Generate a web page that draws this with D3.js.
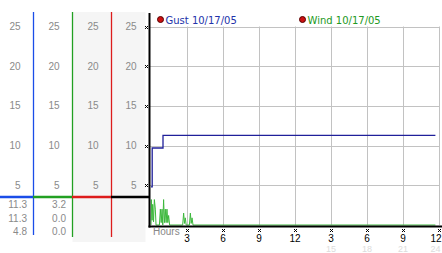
<!DOCTYPE html>
<html>
<head>
<meta charset="utf-8">
<script src="https://cdn.jsdelivr.net/npm/d3@7"></script>
<style>
  body { margin: 0; background: #fff; }
  text { font-family: "Liberation Sans", Arial, sans-serif; }
</style>
</head>
<body>
<svg id="chart" width="442" height="253"></svg>
<script>
// wind / gust data (hours since midnight, mph)
let gustHours = [0, 0.1, 1.0, 23.7];
let gustValues = [4.8, 9.7, 11.3, 11.3];

let windHours = [0, 0.03, 0.09, 0.14, 0.21, 0.28, 0.36, 0.42, 0.70, 0.78, 0.85, 0.92, 0.98,
                 1.05, 1.12, 1.19, 1.26, 1.33, 1.40, 1.47, 1.55, 2.64, 2.72, 2.79, 2.86, 2.93,
                 3.20, 3.28, 3.35, 3.42, 3.50, 23.7];
let windValues = [0, 3.2, 0.6, 2.6, 0.4, 3.2, 2.0, 0, 0, 2.0, 0.3, 2.0, 0,
                  3.2, 0.3, 2.0, 0.3, 2.0, 0.3, 1.2, 0, 0, 1.5, 0.2, 0.9, 0,
                  0, 1.5, 0.2, 0.9, 0, 0];

let yTicks = [5, 10, 15, 20, 25];
let xTicks = [3, 6, 9, 12, 15, 18, 21, 24];
let xTickLabels = ["3", "6", "9", "12", "3", "6", "9", "12"];
let xFaintLabels = ["", "", "", "", "15", "18", "21", "24"];

let legendNames = ["Gust 10/17/05", "Wind 10/17/05"];
let gustReadings = ["11.3", "11.3", "4.8"];   // max, now, min
let windReadings = ["3.2", "0.0", "0.0"];

function make_chart(){
    let svg = d3.select('#chart');
    let AXIS_X = 149.5;
    let READ_Y = 197;
    let colEdges = [0, 33, 72, 111, 149];
    let colColors = ['#1a4de8', '#22a022', '#dd1c1c', '#000'];

    // scales
    let xScale = d3.scaleLinear().domain([0, 24]).range([151, 439]);
    let yScale = d3.scaleLinear().domain([0, 25]).range([225, 26.5]);

    // grey background for the two right columns
    svg.append('rect')
        .attr('x', 72.5).attr('y', 12)
        .attr('width', 73).attr('height', 230)
        .attr('fill', '#f5f5f5');

    // column tick labels (each column repeats the scale)
    for (let i = 0; i < 4; i++) {
        svg.append('g')
            .selectAll('text')
            .data(yTicks)
            .join('text')
            .attr('x', colEdges[i + 1] - 12.5)
            .attr('y', d => yScale(d) + 3.5)
            .attr('text-anchor', 'end')
            .attr('font-size', 10)
            .attr('fill', '#8a8a8a')
            .text(d => d);
    }

    // column divider lines
    svg.append('g')
        .selectAll('line')
        .data(colEdges.slice(1, 4))
        .join('line')
        .attr('x1', d => d + 0.5).attr('x2', d => d + 0.5)
        .attr('y1', 12).attr('y2', (d, i) => i == 0 ? 235 : 237)
        .attr('stroke', (d, i) => colColors[i])
        .attr('stroke-width', 1.3);

    // horizontal reading bar, one colour per column
    svg.append('g')
        .selectAll('line')
        .data(colColors)
        .join('line')
        .attr('x1', (d, i) => colEdges[i]).attr('x2', (d, i) => colEdges[i + 1])
        .attr('y1', READ_Y).attr('y2', READ_Y)
        .attr('stroke', d => d)
        .attr('stroke-width', 2.6);

    // readings under the bar
    [gustReadings, windReadings].forEach((vals, i) => {
        svg.append('g')
            .selectAll('text')
            .data(vals)
            .join('text')
            .attr('x', colEdges[i + 1] - 6)
            .attr('y', (d, j) => 208 + j * 13.5)
            .attr('text-anchor', 'end')
            .attr('font-size', 10)
            .attr('fill', '#8a8a8a')
            .text(d => d);
    });

    // grid
    svg.append('g')
        .selectAll('line')
        .data(yTicks)
        .join('line')
        .attr('x1', AXIS_X).attr('x2', xScale(24) + 1)
        .attr('y1', d => Math.round(yScale(d)) + 0.5).attr('y2', d => Math.round(yScale(d)) + 0.5)
        .attr('stroke', '#c2c2c2');
    svg.append('g')
        .selectAll('line')
        .data(xTicks)
        .join('line')
        .attr('x1', d => Math.round(xScale(d)) + 0.5).attr('x2', d => Math.round(xScale(d)) + 0.5)
        .attr('y1', yScale(25)).attr('y2', yScale(0))
        .attr('stroke', '#c2c2c2');

    // wind line
    let windLine = d3.line()
        .x(d => xScale(d[0]))
        .y(d => yScale(d[1]));
    svg.append('path')
        .datum(windHours.map((h, i) => [h, windValues[i]]))
        .attr('d', windLine)
        .attr('fill', 'none')
        .attr('stroke', '#3cb83c')
        .attr('stroke-width', 1);

    // gust line
    let gustLine = d3.line()
        .curve(d3.curveStepAfter)
        .x(d => xScale(d[0]))
        .y(d => yScale(d[1]));
    svg.append('path')
        .datum(gustHours.map((h, i) => [h, gustValues[i]]))
        .attr('d', gustLine)
        .attr('fill', 'none')
        .attr('stroke', '#20209a')
        .attr('stroke-width', 1.3);

    // axes
    svg.append('line')
        .attr('x1', AXIS_X).attr('x2', AXIS_X)
        .attr('y1', 13).attr('y2', 227.5)
        .attr('stroke', '#000').attr('stroke-width', 2);
    svg.append('line')
        .attr('x1', AXIS_X - 1).attr('x2', 442)
        .attr('y1', 226.5).attr('y2', 226.5)
        .attr('stroke', '#000').attr('stroke-width', 2);

    // little tick marks
    let mark = 'M-1.5,-1.5L1.5,1.5M1.5,-1.5L-1.5,1.5';
    svg.append('g')
        .selectAll('path')
        .data(yTicks)
        .join('path')
        .attr('transform', d => `translate(146.5,${Math.round(yScale(d)) + 0.5})`)
        .attr('d', mark)
        .attr('stroke', '#000');
    svg.append('g')
        .selectAll('path')
        .data(xTicks)
        .join('path')
        .attr('transform', d => `translate(${Math.round(xScale(d)) + 0.5},230.5)`)
        .attr('d', mark)
        .attr('stroke', '#000');

    // x labels; the last one is pulled inside the edge
    let lastTick = xTicks[xTicks.length - 1];
    svg.append('text')
        .attr('x', 153).attr('y', 234.5)
        .attr('font-size', 10)
        .attr('fill', '#888')
        .text('Hours');
    svg.append('g')
        .selectAll('text')
        .data(xTicks)
        .join('text')
        .attr('x', d => d == lastTick ? 441.5 : xScale(d))
        .attr('y', 241.5)
        .attr('text-anchor', d => d == lastTick ? 'end' : 'middle')
        .attr('font-size', 10)
        .attr('fill', '#000')
        .text((d, i) => xTickLabels[i]);
    svg.append('g')
        .selectAll('text')
        .data(xTicks)
        .join('text')
        .attr('x', d => d == lastTick ? 440.5 : xScale(d))
        .attr('y', 252)
        .attr('text-anchor', d => d == lastTick ? 'end' : 'middle')
        .attr('font-size', 9)
        .attr('fill', '#dcdcdc')
        .text((d, i) => xFaintLabels[i]);

    // legend
    let legendX = [160.5, 302.5];
    let legendColors = ['#2233aa', '#229922'];
    let legend = svg.append('g')
        .selectAll('g')
        .data(legendNames)
        .join('g')
        .attr('transform', (d, i) => `translate(${legendX[i]},19.5)`);
    legend.append('circle')
        .attr('r', 3)
        .attr('fill', '#cc1111')
        .attr('stroke', '#550000');
    legend.append('text')
        .attr('x', 5).attr('y', 4)
        .style('font-family', '"DejaVu Sans", sans-serif')
        .style('font-size', '10px')
        .attr('fill', (d, i) => legendColors[i])
        .text(d => d);
}

make_chart();
</script>
</body>
</html>
